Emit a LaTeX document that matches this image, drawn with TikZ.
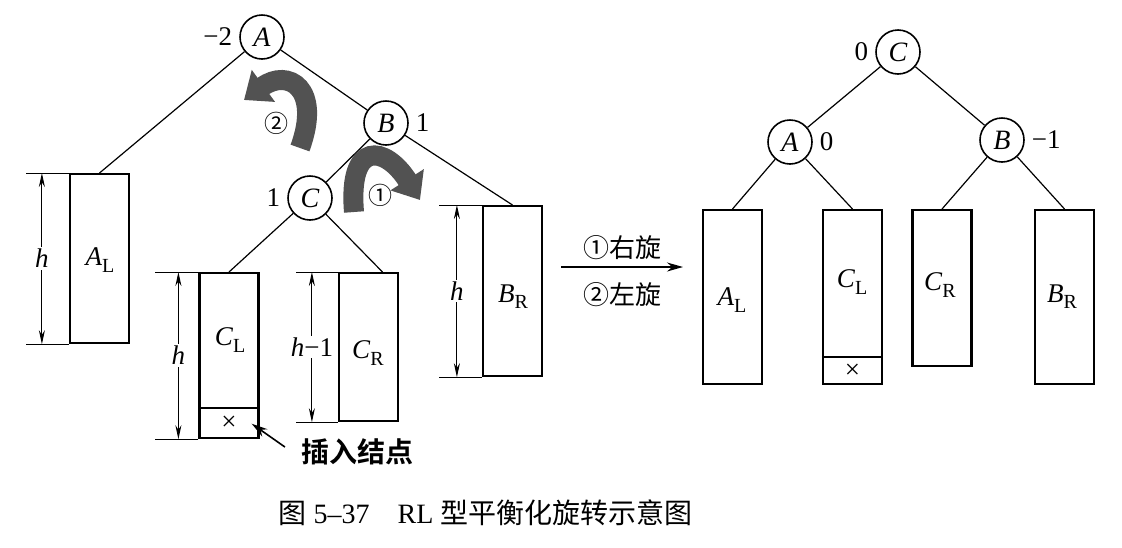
\documentclass[tikz,border=0pt]{standalone}
\usepackage{fontspec}
\setmainfont{Liberation Serif}
\newfontfamily\cjk{Noto Sans CJK SC}
\newfontfamily\cjkbf{Noto Sans CJK SC Bold}
\usetikzlibrary{arrows.meta}
\tikzstyle{key} = [circle, draw=black, line width=0.8pt, minimum size=22pt, inner sep=0pt, font=\fontsize{14}{16}\selectfont\itshape]
\tikzstyle{bal} = [font=\fontsize{13.5}{16}\selectfont]
\tikzstyle{subtree} = [rectangle, draw=black, line width=1.1pt, minimum width=29.5pt, inner sep=0pt, anchor=north]
\tikzstyle{edge} = [line width=0.6pt]
\tikzstyle{ext} = [line width=0.5pt]
\tikzstyle{dim} = [line width=0.5pt, {Stealth[length=7pt,width=3pt]}-{Stealth[length=7pt,width=3pt]}]
\tikzstyle{turn} = [line width=10pt, draw=black!68, -{Triangle[width=19pt,length=12pt]}]
\tikzstyle{arrow} = [line width=0.8pt, -{Stealth[length=8pt,width=4.5pt]}]
\newcommand{\stname}[2]{\textit{#1}\raisebox{-0.5ex}{\fontsize{10}{11}\selectfont #2}}

\begin{document}
\begin{tikzpicture}[x=0.5pt, y=-0.5pt, font=\fontsize{13.5}{16}\selectfont]
  \useasboundingbox (0,0) rectangle (1122,547);

  % before: A unbalanced
  \node (A) [key, label={[bal]left:−2}] at (262,37) {A};
  \node (B) [key, label={[bal]right:1}] at (386,123) {B};
  \node (C) [key, label={[bal]left:1}] at (310,198) {C};

  \node (AL) [subtree, minimum height=84.5pt] at (99.5,173) {};
  \node (CL) [subtree, minimum height=82.5pt] at (229,272) {};
  \node (CR) [subtree, minimum height=74pt] at (368.5,272) {};
  \node (BR) [subtree, minimum height=85pt] at (512.5,205) {};

  \node (lAL) at (100,260) {\stname{A}{L}};
  \node (lCL) at (230,340) {\stname{C}{L}};
  \node (lCR) at (368,353) {\stname{C}{R}};
  \node (lBR) at (513,297) {\stname{B}{R}};

  \draw [line width=1.1pt] ([yshift=15.5pt]CL.south west) -- ([yshift=15.5pt]CL.south east);
  \node (x1) at ([yshift=7.75pt]CL.south) {×};

  \draw [edge] (A) -- (AL.north);
  \draw [edge] (A) -- (B);
  \draw [edge] (B) -- (C);
  \draw [edge] (B) -- (BR.north);
  \draw [edge] (C) -- (CL.north);
  \draw [edge] (C) -- ([xshift=7pt]CR.north);

  % heights
  \draw [ext] (AL.north west) -- ++(-43,0);
  \draw [ext] (AL.south west) -- ++(-43,0);
  \draw [dim] ([xshift=-13.5pt]AL.north west) -- ([xshift=-13.5pt]AL.south west) node[midway, fill=white, inner sep=1pt] {\textit{h}};
  \draw [ext] (CL.north west) -- ++(-43,0);
  \draw [ext] (CL.south west) -- ++(-43,0);
  \draw [dim] ([xshift=-10pt]CL.north west) -- ([xshift=-10pt]CL.south west) node[midway, fill=white, inner sep=1pt] {\textit{h}};
  \draw [ext] (CR.north west) -- ++(-42,0);
  \draw [ext] (CR.south west) -- ++(-42,0);
  \draw [dim] ([xshift=-13pt]CR.north west) -- ([xshift=-13pt]CR.south west) node[midway, fill=white, inner sep=1pt] {\textit{h}−1};
  \draw [ext] (BR.north west) -- ++(-43,0);
  \draw [ext] (BR.south west) -- ++(-43,0);
  \draw [dim] ([xshift=-12.5pt]BR.north west) -- ([xshift=-12.5pt]BR.south west) node[midway, fill=white, inner sep=1pt] {\textit{h}};

  % rotations
  \draw [turn] (300,148) .. controls (322,88) and (288,68) .. (244,100);
  \node (n2) at (276,123) {\cjk\fontsize{12}{14}\selectfont ②};
  \draw [turn] (354,212) .. controls (348,140) and (385,145) .. (420,200);
  \node (n1) at (380,195) {\cjk\fontsize{12}{14}\selectfont ①};

  \node (ins) at (357,452) {\cjkbf\fontsize{14}{16}\selectfont 插入结点};
  \draw [arrow] ([xshift=-4.5pt, yshift=2.5pt]ins.west) -- ([xshift=4pt]x1.east);

  \coordinate (t1) at (561,267);
  \coordinate (t2) at (683,267);
  \draw [arrow] (t1) -- (t2) node[midway, above] {\cjk\fontsize{13}{15}\selectfont ①右旋} node[midway, below, yshift=-4pt] {\cjk\fontsize{13}{15}\selectfont ②左旋};

  % after: C is root
  \node (C2) [key, label={[bal]left:0}] at (898,52) {C};
  \node (A2) [key, label={[bal]right:0}] at (790,142) {A};
  \node (B2) [key, label={[bal]right:−1}] at (1002,140) {B};

  \node (AL2) [subtree, minimum height=87pt] at (732.5,209) {};
  \node (CL2) [subtree, minimum height=87pt] at (852.5,209) {};
  \node (CR2) [subtree, minimum height=78pt] at (942,209) {};
  \node (BR2) [subtree, minimum height=87pt] at (1064.5,209) {};

  \node (lAL2) at (732,300) {\stname{A}{L}};
  \node (lCL2) at (852,282) {\stname{C}{L}};
  \node (lCR2) at (940,285) {\stname{C}{R}};
  \node (lBR2) at (1062,297) {\stname{B}{R}};

  \draw [line width=1.1pt] ([yshift=14pt]CL2.south west) -- ([yshift=14pt]CL2.south east);
  \node (x2) at ([yshift=7pt]CL2.south) {×};

  \draw [edge] (C2) -- (A2);
  \draw [edge] (C2) -- (B2);
  \draw [edge] (A2) -- (AL2.north);
  \draw [edge] (A2) -- (CL2.north);
  \draw [edge] (B2) -- (CR2.north);
  \draw [edge] (B2) -- (BR2.north);

  \node (cap) at (485.5,513) {\fontsize{14}{16}\selectfont{\cjk 图} 5--37\quad RL {\cjk 型平衡化旋转示意图}};
\end{tikzpicture}
\end{document}
